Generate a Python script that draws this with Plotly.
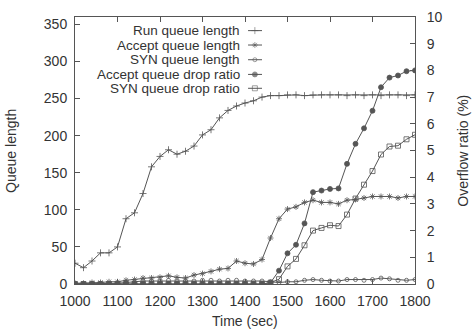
import plotly.graph_objects as go

time = list(range(1000, 1801, 20))

run_queue = [28, 22, 31, 42, 42, 50, 88, 96, 122, 158, 172, 181, 175, 179, 186, 201, 208, 224, 234, 240,
             244, 247, 252, 254, 254, 255, 255, 254, 255, 255, 255, 255, 254, 255, 254, 255, 254, 255, 255, 254, 255]
accept_queue = [1, 1, 2, 2, 3, 3, 5, 6, 8, 8, 9, 11, 9, 8, 12, 14, 17, 20, 21, 31,
                28, 27, 33, 62, 88, 101, 104, 110, 113, 110, 110, 108, 113, 114, 116, 118, 118, 118, 116, 118, 118]
syn_queue = [0, 0, 0, 0, 0, 1, 2, 3, 4, 4, 4, 5, 4, 4, 4, 5, 5, 4, 5, 5,
             4, 4, 4, 3, 2, 3, 3, 5, 6, 5, 4, 4, 6, 6, 5, 6, 8, 7, 5, 5, 6]
accept_drop = [0] * 23 + [0.05, 0.5, 1.15, 1.47, 2.27, 3.44, 3.5, 3.56, 3.58, 4.5, 5.25, 5.83, 6.49, 7.37, 7.73, 7.81, 7.97, 8.0]
syn_drop = [0] * 23 + [0.05, 0.18, 0.66, 0.94, 1.45, 2.0, 2.1, 2.2, 2.17, 2.6, 3.2, 3.72, 4.23, 4.85, 5.15, 5.18, 5.42, 5.59]

names = ["Run queue length", "Accept queue length", "SYN queue length",
         "Accept queue drop ratio", "SYN queue drop ratio"]
series = [run_queue, accept_queue, syn_queue, accept_drop, syn_drop]
axes = ["y", "y", "y", "y2", "y2"]
symbols = ["cross-thin-open", "asterisk-open", "circle-open", "circle", "square-open"]
sizes = [5, 5, 4, 5, 5]

LINE = "#555555"
TEXT = "#333333"
FONT = "Liberation Sans, Arial, sans-serif"

fig = go.Figure()
for name, vals, ax, sym, sz in zip(names, series, axes, symbols, sizes):
    fig.add_trace(go.Scatter(
        x=time, y=vals, yaxis=ax, mode="lines+markers", name=name, showlegend=False,
        line=dict(color=LINE, width=1),
        marker=dict(symbol=sym, size=sz, color=LINE, line=dict(color=LINE, width=0.8)),
    ))

# custom gnuplot-style legend (text right-aligned, sample on the right)
leg_y = [0.949, 0.895, 0.84, 0.785, 0.733]
for name, sym, sz, ly in zip(names, symbols, sizes, leg_y):
    fig.add_trace(go.Scatter(
        x=[0.509, 0.529, 0.55], y=[ly, ly, ly], xaxis="x3", yaxis="y3",
        mode="lines+markers", showlegend=False, hoverinfo="skip",
        line=dict(color=LINE, width=1),
        marker=dict(symbol=sym, size=[0, sz, 0], color=LINE, line=dict(color=LINE, width=0.8)),
    ))
    fig.add_annotation(x=0.487, y=ly, xref="x3", yref="y3", text=name, showarrow=False,
                       xanchor="right", yanchor="middle", borderpad=0,
                       font=dict(size=13.5, color=TEXT, family=FONT))

axis_common = dict(showgrid=False, zeroline=False, ticks="inside", ticklen=5, tickcolor=LINE,
                   linecolor=LINE, linewidth=1, tickfont=dict(size=14, color=TEXT, family=FONT))

fig.update_layout(
    width=472, height=335,
    margin=dict(l=75, r=57, t=9, b=51),
    paper_bgcolor="white", plot_bgcolor="white",
    font=dict(family=FONT, size=14, color=TEXT),
    xaxis=dict(range=[1000, 1800], dtick=100, tick0=1000, showline=True, mirror="ticks",
               ticklabelstandoff=4, **axis_common),
    yaxis=dict(range=[0, 360], tickvals=[0, 50, 100, 150, 200, 250, 300, 350], showline=True,
               ticklabelstandoff=4, **axis_common),
    yaxis2=dict(range=[0, 10], dtick=1, overlaying="y", side="right", showline=True,
                ticklabelstandoff=8, **axis_common),
    xaxis3=dict(range=[0, 1], overlaying="x", visible=False, fixedrange=True),
    yaxis3=dict(range=[0, 1], overlaying="y", visible=False, fixedrange=True),
    showlegend=False,
)

fig.add_annotation(x=0.5, y=-0.14, xref="paper", yref="paper", text="Time (sec)", showarrow=False,
                   xanchor="center", yanchor="middle", font=dict(size=14, color=TEXT, family=FONT))
fig.add_annotation(x=-0.19, y=0.5, xref="paper", yref="paper", text="Queue length", showarrow=False,
                   textangle=-90, xanchor="center", yanchor="middle", font=dict(size=14, color=TEXT, family=FONT))
fig.add_annotation(x=1.139, y=0.5, xref="paper", yref="paper", text="Overflow ratio (%)", showarrow=False,
                   textangle=-90, xanchor="center", yanchor="middle", font=dict(size=14, color=TEXT, family=FONT))

fig.write_html("out.html")
